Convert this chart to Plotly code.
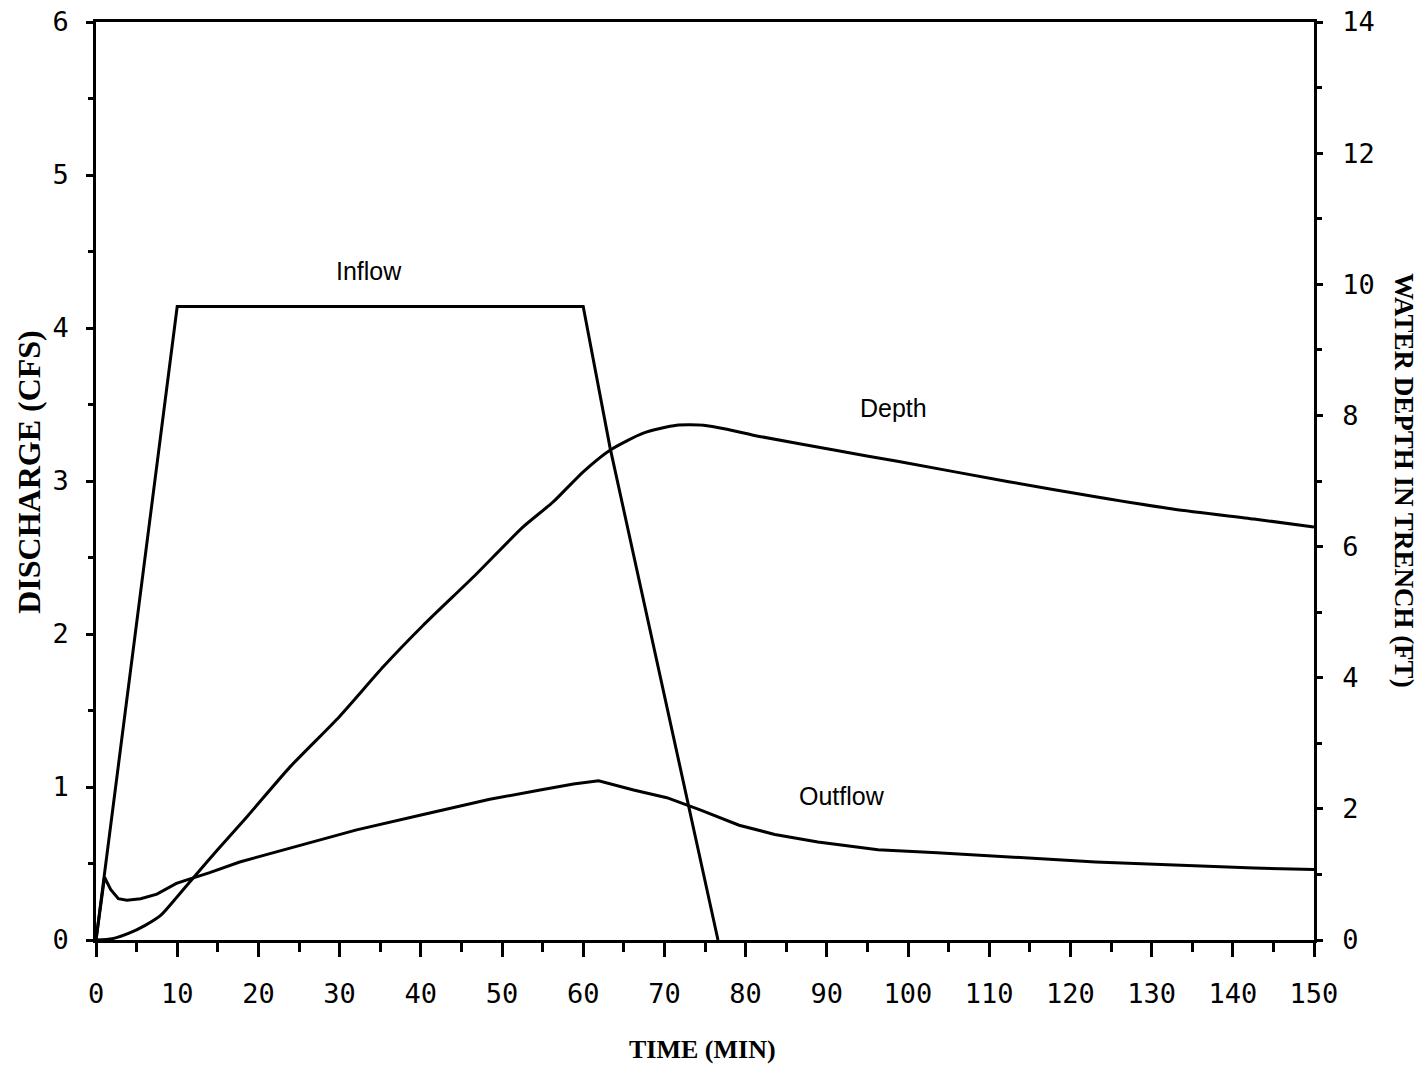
import plotly.graph_objects as go

# Time axis (minutes) and the three hydrograph series
inflow_t = [0, 10, 60, 63.3, 76.6]
inflow_q = [0, 4.14, 4.14, 3.22, 0]

outflow_t = [0, 1.05, 1.8, 2.75, 3.8, 5.5, 7.5, 9.9, 11.6, 14, 17.7, 23.9, 32.1, 40.3,
             48.5, 54.7, 58.8, 61.9, 66.2, 70.3, 72.9, 74.4, 79.2, 83.6, 88.9, 96.3,
             103.6, 113.3, 123.1, 132.8, 142.6, 150]
outflow_q = [0, 0.41, 0.33, 0.27, 0.26, 0.27, 0.30, 0.37, 0.40, 0.44, 0.51, 0.60, 0.72, 0.82,
             0.92, 0.98, 1.02, 1.04, 0.98, 0.93, 0.88, 0.85, 0.75, 0.69, 0.64, 0.59,
             0.57, 0.54, 0.51, 0.49, 0.47, 0.46]

depth_t = [0, 2, 4, 6, 8, 10, 12, 15, 18.6, 23.9, 30, 35.4, 40.3, 46.5, 52.6, 56.3, 60,
           63.3, 67.4, 71.5, 74.8, 77.7, 81.7, 91.4, 98.7, 112.4, 123.1, 132.8, 142.6, 150]
depth_ft = [0, 0.02, 0.1, 0.22, 0.38, 0.66, 0.95, 1.38, 1.88, 2.64, 3.41, 4.17, 4.80, 5.54,
            6.30, 6.68, 7.14, 7.47, 7.73, 7.85, 7.85, 7.79, 7.68, 7.46, 7.30, 6.99, 6.76,
            6.57, 6.42, 6.30]

series_labels = ["Inflow", "Outflow", "Depth"]

LINE = dict(color="black", width=3)
TICK_FONT = dict(family="DejaVu Sans Mono", size=27, color="black")
TITLE_FONT = dict(family="Liberation Serif", color="black", weight="bold")
LABEL_FONT = dict(family="Liberation Sans", size=25, color="black")

fig = go.Figure()
fig.add_trace(go.Scatter(x=inflow_t, y=inflow_q, mode="lines", line=LINE,
                         name=series_labels[0]))
fig.add_trace(go.Scatter(x=outflow_t, y=outflow_q, mode="lines", line=LINE,
                         name=series_labels[1]))
fig.add_trace(go.Scatter(x=depth_t, y=depth_ft, mode="lines",
                         line=dict(color="black", width=3, shape="spline", smoothing=0.6),
                         name=series_labels[2], yaxis="y2"))

axis_common = dict(showgrid=False, zeroline=False, showline=True, linecolor="black",
                   linewidth=2.5, ticks="outside", tickcolor="black", tickwidth=2.5,
                   tickfont=TICK_FONT, automargin=False)

fig.update_layout(
    width=1427, height=1069,
    margin=dict(l=96, r=113, t=22, b=129),
    paper_bgcolor="white", plot_bgcolor="white",
    showlegend=False,
    xaxis=dict(range=[0, 150], tick0=0, dtick=10, mirror=True, ticklen=14,
               ticklabelstandoff=14,
               minor=dict(dtick=5, ticks="outside", ticklen=9, tickwidth=2.5,
                          tickcolor="black", showgrid=False),
               **axis_common),
    yaxis=dict(range=[0, 6], tick0=0, dtick=1, ticklen=7, ticklabelstandoff=12,
               minor=dict(dtick=0.5, ticks="outside", ticklen=5, tickwidth=2.5,
                          tickcolor="black", showgrid=False),
               **axis_common),
    yaxis2=dict(range=[0, 14], tick0=0, dtick=2, overlaying="y", side="right",
                ticklen=6, ticklabelstandoff=14,
                minor=dict(dtick=1, ticks="outside", ticklen=5, tickwidth=2.5,
                           tickcolor="black", showgrid=False),
                **axis_common),
)

# Axis titles
fig.add_annotation(text="TIME (MIN)", xref="paper", yref="paper",
                   x=0.498, y=-0.1198, xanchor="center", yanchor="middle",
                   showarrow=False, font=dict(size=26, **TITLE_FONT))
fig.add_annotation(text="DISCHARGE (CFS)", xref="paper", yref="paper",
                   x=-0.055, y=0.51, xanchor="center", yanchor="middle",
                   textangle=-90, showarrow=False, font=dict(size=32, **TITLE_FONT))
fig.add_annotation(text="WATER DEPTH IN TRENCH (FT)", xref="paper", yref="paper",
                   x=1.0739, y=0.501, xanchor="center", yanchor="middle",
                   textangle=90, showarrow=False, font=dict(size=27, **TITLE_FONT))

# Curve labels
fig.add_annotation(text=series_labels[0], x=33.6, y=4.37, showarrow=False, font=LABEL_FONT)
fig.add_annotation(text=series_labels[2], x=98.2, y=3.48, showarrow=False, font=LABEL_FONT)
fig.add_annotation(text=series_labels[1], x=91.9, y=0.94, showarrow=False, font=LABEL_FONT)

fig.write_html("out.html", config={"displayModeBar": False})
